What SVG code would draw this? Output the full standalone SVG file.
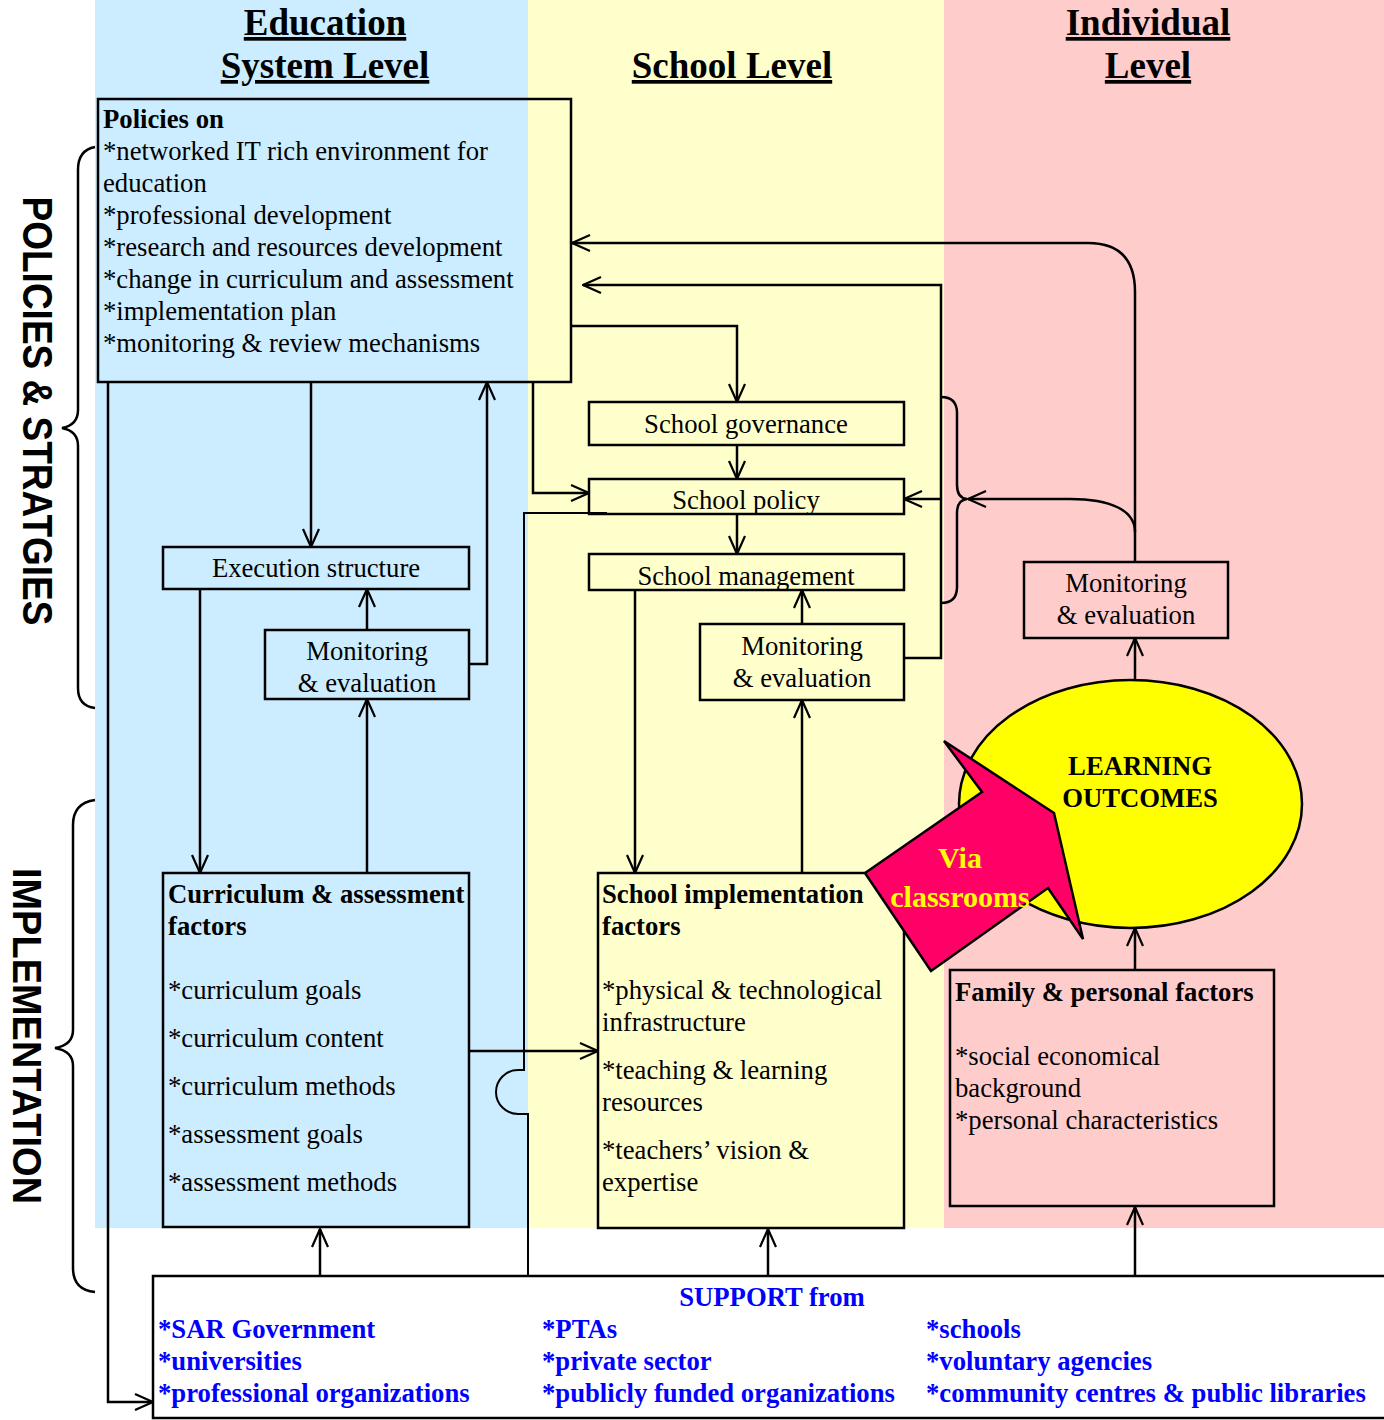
<svg xmlns="http://www.w3.org/2000/svg" width="1384" height="1420" viewBox="0 0 1384 1420">
<style>
.t{font-family:"Liberation Serif","Times New Roman",serif;font-size:26.7px;fill:#000}
.b{font-weight:bold}
.c{text-anchor:middle}
.h{font-family:"Liberation Serif","Times New Roman",serif;font-size:37px;font-weight:bold;text-anchor:middle;text-decoration:underline}
.box{stroke:#000;stroke-width:2.5}
.ln{fill:none;stroke:#000;stroke-width:2.5}
.sup{font-family:"Liberation Serif","Times New Roman",serif;font-size:26.7px;font-weight:bold;fill:#0000FF}
.vl{font-family:"Liberation Sans",Arial,sans-serif;font-weight:bold;text-anchor:middle;fill:#000}
</style>
<defs>
<marker id="ah" viewBox="0 0 20 20" refX="19" refY="10" markerWidth="20" markerHeight="20" orient="auto" markerUnits="userSpaceOnUse">
<path d="M1,2 L19,10 L1,18" fill="none" stroke="#000" stroke-width="2.2"/>
</marker>
</defs>
<rect x="0" y="0" width="1384" height="1420" fill="#FFFFFF"/>
<g id="backgrounds">
<rect x="95" y="0" width="433" height="1228" fill="#CCECFF"/>
<rect x="528" y="0" width="416" height="1228" fill="#FFFFCC"/>
<rect x="944" y="0" width="440" height="1228" fill="#FFCCCC"/>
</g>
<g id="headers">
<text class="h" x="325" y="35">Education</text>
<text class="h" x="325" y="78">System Level</text>
<text class="h" x="732" y="78">School Level</text>
<text class="h" x="1148" y="35">Individual</text>
<text class="h" x="1148" y="78">Level</text>
</g>
<g id="side-labels">
<path class="ln" d="M95,147 Q78,150 78,170 V410 Q78,425 62,428 Q78,431 78,446 V688 Q78,706 95,708"/>
<text class="vl" font-size="37" transform="translate(23,411) rotate(90) scale(1,1.13)">POLICIES &amp; STRATGIES</text>
<path class="ln" d="M95,800 Q73,803 73,825 V1030 Q73,1045 55,1048 Q73,1051 73,1066 V1268 Q73,1290 95,1292"/>
<text class="vl" font-size="38" transform="translate(13,1036) rotate(90) scale(1,1.08)">IMPLEMENTATION</text>
</g>
<g id="policies">
<rect class="box" x="98" y="99" width="473" height="283" fill="none"/>
<text class="t b" x="103" y="128">Policies on</text>
<text class="t" x="103" y="160">*networked IT rich environment for</text>
<text class="t" x="103" y="192">education</text>
<text class="t" x="103" y="224">*professional development</text>
<text class="t" x="103" y="256">*research and resources development</text>
<text class="t" x="103" y="288">*change in curriculum and assessment</text>
<text class="t" x="103" y="320">*implementation plan</text>
<text class="t" x="103" y="352">*monitoring &amp; review mechanisms</text>
</g>
<g id="execution-structure">
<rect class="box" x="163" y="547" width="306" height="42" fill="#CCECFF"/>
<text class="t c" x="316" y="577">Execution structure</text>
</g>
<g id="monitoring-system">
<rect class="box" x="265" y="630" width="204" height="69" fill="#CCECFF"/>
<text class="t c" x="367" y="660">Monitoring</text>
<text class="t c" x="367" y="692">&amp; evaluation</text>
</g>
<g id="curriculum">
<rect class="box" x="163" y="873" width="306" height="354" fill="#CCECFF"/>
<text class="t b" x="168" y="903">Curriculum &amp; assessment</text>
<text class="t b" x="168" y="935">factors</text>
<text class="t" x="168" y="999">*curriculum goals</text>
<text class="t" x="168" y="1047">*curriculum content</text>
<text class="t" x="168" y="1095">*curriculum methods</text>
<text class="t" x="168" y="1143">*assessment goals</text>
<text class="t" x="168" y="1191">*assessment methods</text>
</g>
<g id="school-governance">
<rect class="box" x="589" y="402" width="315" height="43" fill="#FFFFCC"/>
<text class="t c" x="746" y="433">School governance</text>
</g>
<g id="school-policy">
<rect class="box" x="589" y="479" width="315" height="35" fill="#FFFFCC"/>
<text class="t c" x="746" y="509">School policy</text>
</g>
<g id="school-management">
<rect class="box" x="589" y="554" width="315" height="36" fill="#FFFFCC"/>
<text class="t c" x="746" y="585">School management</text>
</g>
<g id="monitoring-school">
<rect class="box" x="700" y="624" width="204" height="76" fill="#FFFFCC"/>
<text class="t c" x="802" y="655">Monitoring</text>
<text class="t c" x="802" y="687">&amp; evaluation</text>
</g>
<g id="school-implementation">
<rect class="box" x="598" y="873" width="306" height="355" fill="#FFFFCC"/>
<text class="t b" x="602" y="903">School implementation</text>
<text class="t b" x="602" y="935">factors</text>
<text class="t" x="602" y="999">*physical &amp; technological</text>
<text class="t" x="602" y="1031">infrastructure</text>
<text class="t" x="602" y="1079">*teaching &amp; learning</text>
<text class="t" x="602" y="1111">resources</text>
<text class="t" x="602" y="1159">*teachers’ vision &amp;</text>
<text class="t" x="602" y="1191">expertise</text>
</g>
<g id="monitoring-individual">
<rect class="box" x="1024" y="562" width="204" height="76" fill="#FFCCCC"/>
<text class="t c" x="1126" y="592">Monitoring</text>
<text class="t c" x="1126" y="624">&amp; evaluation</text>
</g>
<g id="family">
<rect class="box" x="950" y="970" width="324" height="236" fill="#FFCCCC"/>
<text class="t b" x="955" y="1001">Family &amp; personal factors</text>
<text class="t" x="955" y="1065">*social economical</text>
<text class="t" x="955" y="1097">background</text>
<text class="t" x="955" y="1129">*personal characteristics</text>
</g>
<g id="support">
<rect class="box" x="153" y="1276" width="1240" height="142" fill="#FFFFFF"/>
<text class="sup" x="772" y="1306" text-anchor="middle">SUPPORT from</text>
<text class="sup" x="158" y="1338">*SAR Government</text>
<text class="sup" x="158" y="1370">*universities</text>
<text class="sup" x="158" y="1402">*professional organizations</text>
<text class="sup" x="542" y="1338">*PTAs</text>
<text class="sup" x="542" y="1370">*private sector</text>
<text class="sup" x="542" y="1402">*publicly funded organizations</text>
<text class="sup" x="926" y="1338">*schools</text>
<text class="sup" x="926" y="1370">*voluntary agencies</text>
<text class="sup" x="926" y="1402">*community centres &amp; public libraries</text>
</g>
<g id="connectors">
<path class="ln" d="M311,382 V547" marker-end="url(#ah)"/>
<path class="ln" d="M367,630 V589" marker-end="url(#ah)"/>
<path class="ln" d="M469,664 H487 V382" marker-end="url(#ah)"/>
<path class="ln" d="M200,589 V873" marker-end="url(#ah)"/>
<path class="ln" d="M367,873 V699" marker-end="url(#ah)"/>
<path class="ln" d="M469,1051 H598" marker-end="url(#ah)"/>
<path class="ln" d="M108,382 V1402 H153" marker-end="url(#ah)"/>
<path class="ln" d="M571,326 H737 V402" marker-end="url(#ah)"/>
<path class="ln" d="M533,382 V493 H589" marker-end="url(#ah)"/>
<path class="ln" d="M737,445 V479" marker-end="url(#ah)"/>
<path class="ln" d="M737,514 V554" marker-end="url(#ah)"/>
<path class="ln" d="M635,590 V873" marker-end="url(#ah)"/>
<path class="ln" d="M802,624 V590" marker-end="url(#ah)"/>
<path class="ln" d="M802,873 V700" marker-end="url(#ah)"/>
<path class="ln" d="M904,658 H941 V285 H583" marker-end="url(#ah)"/>
<path class="ln" d="M941,499 H904" marker-end="url(#ah)"/>
<path class="ln" d="M941,397 Q957,397 957,413 V485 Q957,498 967,499 Q957,500 957,513 V587 Q957,603 941,603"/>
<path class="ln" d="M1135,562 V292 Q1135,243 1088,243 H572" marker-end="url(#ah)"/>
<path class="ln" d="M1135,532 C1135,510 1110,499 1070,499 H968" marker-end="url(#ah)"/>
<path class="ln" d="M1135,680 V638" marker-end="url(#ah)"/>
<path class="ln" d="M1135,970 V928" marker-end="url(#ah)"/>
<path class="ln" d="M320,1276 V1229" marker-end="url(#ah)"/>
<path class="ln" d="M768,1276 V1229" marker-end="url(#ah)"/>
<path class="ln" d="M1135,1276 V1207" marker-end="url(#ah)"/>
<path fill="none" stroke="#000" stroke-width="2" d="M528,1276 V1114 H518 A22,22 0 0 1 518,1070 H524 V513 H607"/>
</g>
<g id="learning-outcomes">
<ellipse cx="1130.5" cy="804" rx="171.5" ry="124" fill="#FFFF00" stroke="#000" stroke-width="2.5"/>
<text class="t b c" x="1140" y="775">LEARNING</text>
<text class="t b c" x="1140" y="807">OUTCOMES</text>
</g>
<g id="via-classrooms">
<polygon points="944,741 982,792 865,873 931,971 1048,888 1083,939 1054,813" fill="#FF0066" stroke="#000" stroke-width="2.5" stroke-linejoin="miter"/>
<text class="t b c" x="960" y="868" style="fill:#FFFF00;font-size:30px">Via</text>
<text class="t b c" x="960" y="907" style="fill:#FFFF00;font-size:30px">classrooms</text>
</g>
</svg>
